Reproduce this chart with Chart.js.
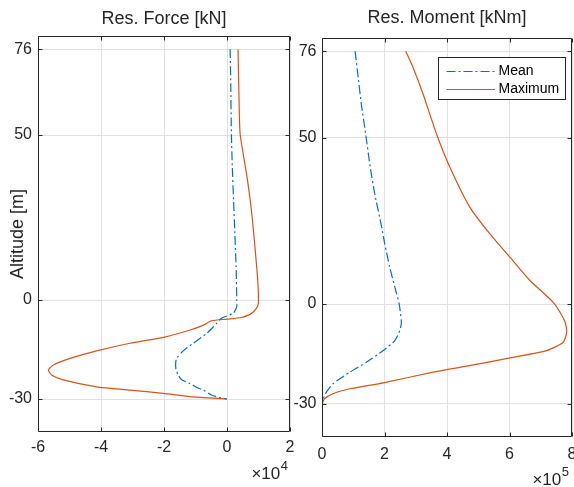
<!DOCTYPE html>
<html><head><meta charset="utf-8">
<script src="https://cdn.jsdelivr.net/npm/chart.js@4.4.1/dist/chart.umd.min.js"></script>
<style>
html,body{margin:0;padding:0;background:#fff;}
#wrap{position:relative;width:574px;height:487px;overflow:hidden;background:#fff;}
canvas{position:absolute;left:0;top:0;}
</style></head><body>
<div id="wrap"><canvas id="c1" width="574" height="487"></canvas><canvas id="c2" width="574" height="487"></canvas></div>
<script>
// ---- data (x values in units of 10^4 kN and 10^5 kNm) ----
const altitudeTicks = [-30, 0, 50, 76];
const forceTicks = [-6, -4, -2, 0, 2];
const momentTicks = [0, 2, 4, 6, 8];
const seriesNames = ['Mean', 'Maximum'];

const forceMeanAlt = [76, 65, 50, 40, 30, 20, 10, 0, -2, -4, -5.5, -7.1, -10.1, -13.1, -15.4, -17.7, -19.2, -21, -22.7, -24.2, -25.3, -26.5, -27.3, -28.8, -29.6, -30];
const forceMean    = [0.10, 0.12, 0.14, 0.17, 0.21, 0.25, 0.29, 0.31, 0.31, 0.20, -0.17, -0.33, -0.64, -1.07, -1.39, -1.60, -1.63, -1.62, -1.55, -1.44, -1.17, -0.96, -0.75, -0.49, -0.22, 0];

const forceMaxAlt = [76, 57, 50, 37, 25, 8, 0, -2, -3.5, -4.5, -5.3, -5.8, -6.3, -7.6, -9.1, -11.3, -13.1, -15.4, -17.7, -19.7, -21.2, -22.7, -24.2, -26.3, -27.3, -28.3, -29.3, -30];
const forceMax    = [0.35, 0.39, 0.42, 0.64, 0.80, 0.96, 1.00, 0.97, 0.85, 0.70, 0.45, 0.00, -0.49, -0.75, -1.17, -2.02, -3.08, -4.14, -4.98, -5.51, -5.67, -5.57, -5.20, -4.14, -3.08, -2.02, -1.17, 0];

const momentMeanAlt = [76, 68, 60, 51, 42, 33, 25, 18, 11, 4, 0, -5.5, -8, -11, -14, -17.5, -20.5, -24, -26.5, -29, -30];
const momentMean    = [1.06, 1.16, 1.26, 1.40, 1.53, 1.69, 1.87, 2.01, 2.17, 2.36, 2.47, 2.54, 2.49, 2.33, 1.96, 1.42, 0.89, 0.35, 0.14, 0.02, 0];

const momentMaxAlt = [76, 71, 63, 51, 41, 29, 21, 14, 7.3, 0.5, -3, -5.5, -8.5, -11.5, -14, -16.2, -18.7, -20.5, -23.7, -25.5, -27, -28.5, -30];
const momentMax    = [2.68, 2.92, 3.24, 3.67, 4.10, 4.74, 5.38, 6.02, 6.63, 7.40, 7.65, 7.78, 7.83, 7.72, 7.19, 6.02, 4.63, 3.56, 1.96, 0.89, 0.35, 0.08, 0];

// ---- styling ----
const FONT = "'Liberation Sans', Arial, Helvetica, sans-serif";
const TXT = '#262626';
const AXIS = '#262626';
const GRID = '#e0e0e0';
const BLUE = '#0072BD';
const ORANGE = '#D95319';
Chart.defaults.font.family = FONT;

function pts(xs, ys) { return ys.map((y, i) => ({x: xs[i], y: y})); }

function dsMean(vals, alts) {
  return {label: seriesNames[0], data: pts(vals, alts), showLine: true, borderColor: BLUE,
    borderWidth: 1.2, borderDash: [9, 3, 2, 3], pointRadius: 0, fill: false, tension: 0.2};
}
function dsMax(vals, alts) {
  return {label: seriesNames[1], data: pts(vals, alts), showLine: true, borderColor: ORANGE,
    borderWidth: 1.2, pointRadius: 0, fill: false, tension: 0.2};
}

const framePlugin = {
  id: 'frame',
  afterDatasetsDraw(chart) {
    const {ctx, chartArea: a, scales} = chart;
    const L = Math.round(a.left) + 0.5, R = Math.round(a.right) - 0.5;
    const T = Math.round(a.top) + 0.5, B = Math.round(a.bottom) - 0.5;
    const tl = 4;
    ctx.save();
    ctx.strokeStyle = AXIS; ctx.lineWidth = 1;
    ctx.beginPath();
    ctx.rect(L, T, R - L, B - T);
    scales.x.ticks.forEach(t => {
      const p = Math.round(scales.x.getPixelForValue(t.value)) + 0.5;
      ctx.moveTo(p, B); ctx.lineTo(p, B - tl);
      ctx.moveTo(p, T); ctx.lineTo(p, T + tl);
    });
    scales.y.ticks.forEach(t => {
      const p = Math.round(scales.y.getPixelForValue(t.value)) + 0.5;
      ctx.moveTo(L, p); ctx.lineTo(L + tl, p);
      ctx.moveTo(R, p); ctx.lineTo(R - tl, p);
    });
    ctx.stroke();
    ctx.restore();
  }
};

const exponentPlugin = {
  id: 'exponent',
  afterDraw(chart, args, opts) {
    if (!opts || !opts.exp) return;
    const {ctx, chartArea: a} = chart;
    ctx.save();
    ctx.fillStyle = TXT;
    ctx.textBaseline = 'middle';
    ctx.textAlign = 'right';
    const xr = a.right - opts.dx;
    ctx.font = '13px ' + FONT;
    const sw = ctx.measureText(opts.exp).width;
    ctx.fillText(opts.exp, xr, a.bottom + opts.dy - 7.5);
    ctx.font = '17px ' + FONT;
    ctx.fillText('\u00d710', xr - sw - 0.5, a.bottom + opts.dy);
    ctx.restore();
  }
};

const boxLegendPlugin = {
  id: 'boxLegend',
  afterDraw(chart, args, opts) {
    if (!opts || !opts.show) return;
    const {ctx} = chart;
    const x0 = 438.5, y0 = 57.5, w = 127, h = 42;
    ctx.save();
    ctx.fillStyle = '#fff';
    ctx.fillRect(x0, y0, w, h);
    ctx.strokeStyle = AXIS; ctx.lineWidth = 1;
    ctx.strokeRect(x0, y0, w, h);
    const rows = [70.7, 89.3];
    chart.data.datasets.forEach((ds, i) => {
      const y = Math.round(rows[i]) + 0.5;
      ctx.strokeStyle = ds.borderColor; ctx.lineWidth = 1.2;
      ctx.setLineDash(ds.borderDash || []);
      ctx.beginPath(); ctx.moveTo(446.5, y); ctx.lineTo(495, y); ctx.stroke();
      ctx.setLineDash([]);
      ctx.fillStyle = '#000';
      ctx.font = '14px ' + FONT;
      ctx.textBaseline = 'middle'; ctx.textAlign = 'left';
      ctx.fillText(ds.label, 498.5, rows[i]);
    });
    ctx.restore();
  }
};

function makeChart(id, cfg) {
  const yAxis = {
    type: 'linear', min: -40, max: 80, position: 'left',
    afterBuildTicks: s => { s.ticks = altitudeTicks.map(v => ({value: v})); },
    afterFit: s => { s.width = 38; s.paddingTop = 0; s.paddingBottom = 0; },
    ticks: {padding: cfg.yPad, color: TXT, font: {size: 16}, callback: v => String(v)},
    grid: {color: GRID, lineWidth: 1, drawTicks: false},
    border: {display: false},
    title: cfg.yTitle ? {display: true, text: cfg.yTitle, color: TXT, font: {size: 18}, padding: {top: 7, bottom: 0}} : {display: false}
  };
  const xAxis = {
    type: 'linear', min: cfg.xTicks[0], max: cfg.xTicks[cfg.xTicks.length - 1], position: 'bottom',
    afterBuildTicks: s => { s.ticks = cfg.xTicks.map(v => ({value: v})); },
    afterFit: s => { s.height = 30; s.paddingLeft = 0; s.paddingRight = 0; },
    ticks: {padding: cfg.xPad, color: TXT, font: {size: 16}, maxRotation: 0, autoSkip: false, callback: v => String(v)},
    grid: {color: GRID, lineWidth: 1, drawTicks: false},
    border: {display: false}
  };
  return new Chart(document.getElementById(id), {
    type: 'scatter',
    data: {datasets: cfg.datasets},
    options: {
      responsive: false, animation: false, devicePixelRatio: 1,
      layout: {padding: cfg.padding},
      scales: {x: xAxis, y: yAxis},
      plugins: {
        legend: {display: false},
        tooltip: {enabled: false},
        title: {display: true, text: cfg.title, color: TXT, font: {size: 18, weight: 'normal'},
                fullSize: false, padding: cfg.titlePad},
        exponent: cfg.exponent,
        boxLegend: {show: cfg.legend}
      }
    },
    plugins: [framePlugin, exponentPlugin, boxLegendPlugin]
  });
}

makeChart('c1', {
  title: 'Res. Force [kN]',
  yTitle: 'Altitude [m]',
  xTicks: forceTicks,
  yPad: 6, xPad: 6.4,
  padding: {left: 0, right: 284, top: 0, bottom: 25},
  titlePad: {top: 8, bottom: 6.4},
  exponent: {exp: '4', dx: 2, dy: 42},
  legend: false,
  datasets: [dsMean(forceMean, forceMeanAlt), dsMax(forceMax, forceMaxAlt)]
});

makeChart('c2', {
  title: 'Res. Moment [kNm]',
  yTitle: null,
  xTicks: momentTicks,
  yPad: 5.5, xPad: 8,
  padding: {left: 284, right: 2, top: 0, bottom: 20},
  titlePad: {top: 7, bottom: 9.4},
  exponent: {exp: '5', dx: 3, dy: 43},
  legend: true,
  datasets: [dsMean(momentMean, momentMeanAlt), dsMax(momentMax, momentMaxAlt)]
});
</script>
</body></html>
